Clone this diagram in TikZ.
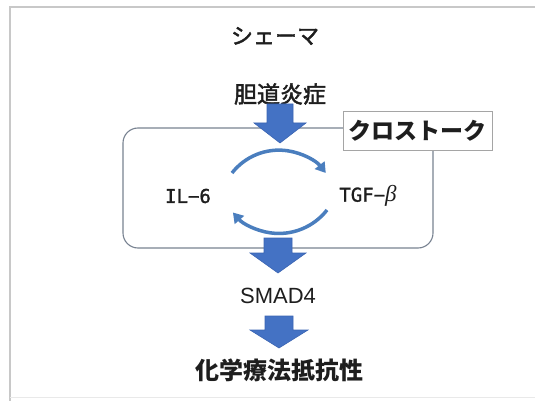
\documentclass[tikz,border=0pt]{standalone}
\usepackage{fontspec}
\setmainfont{Noto Sans CJK JP}
\newfontfamily\jpm[FakeBold=2]{Noto Sans CJK JP}
\newfontfamily\arialf{Liberation Sans}
\newfontfamily\monof[FakeBold=1.5]{DejaVu Sans Mono}
\newfontfamily\betaf{Liberation Serif}
\usetikzlibrary{arrows.meta}
\definecolor{blk}{RGB}{68,114,196}
\definecolor{blkedge}{RGB}{58,100,178}
\definecolor{arcblue}{RGB}{74,126,190}
\definecolor{boxgray}{RGB}{120,130,145}
\definecolor{framegray}{RGB}{200,200,200}
\definecolor{labelgray}{RGB}{165,165,165}
\definecolor{txt}{RGB}{30,30,30}
\newcommand\blkarrow[6]{% x, ytop, ybase, ytip, shaft half, head half
  \filldraw[fill=blk,draw=blkedge,line width=0.6pt]
    (#1-#5,#2) -- (#1+#5,#2) -- (#1+#5,#3) -- (#1+#6,#3) -- (#1,#4)
    -- (#1-#6,#3) -- (#1-#5,#3) -- cycle;}
\tikzset{
  jtext/.style={text=txt, inner sep=0pt},
  labelbox/.style={draw=labelgray, line width=1pt, fill=white, minimum width=149pt, minimum height=38pt, inner sep=0pt, text=txt},
  cycarrow/.style={draw=arcblue, line width=3.5pt, -{Triangle[length=10pt,width=12pt]}},
}
\begin{document}
\begin{tikzpicture}[x=1pt,y=-1pt]
\useasboundingbox (0,0) rectangle (535,401);
% frame
\draw[framegray, line width=1.5pt] (10,401) -- (10,7) -- (535,7);
\draw[framegray!40, line width=1pt] (10,397) -- (535,397);
% rounded crosstalk box
\draw[boxgray, line width=1.1pt, rounded corners=15pt] (123,128) rectangle (433,248);
% texts
\node[jtext, font=\jpm\fontsize{22}{26}\selectfont] (title) at (275,36) {シェーマ};
\node[jtext, font=\jpm\fontsize{23}{26}\selectfont] (cause) at (280,94) {胆道炎症};
\node[jtext, font=\monof\fontsize{19}{24}\selectfont] (il6) at (188,196) {IL−6};
\node[jtext, font=\monof\fontsize{19}{24}\selectfont] (tgf) at (368,196) {TGF−{\betaf\itshape\fontsize{23}{24}\selectfont β}};
\node[jtext, font=\arialf\fontsize{22}{26}\selectfont] (smad) at (278,296) {SMAD4};
\node[jtext, font=\bfseries\fontsize{24}{28}\selectfont] (res) at (279,370) {化学療法抵抗性};
\node[labelbox, font=\bfseries\fontsize{23}{26}\selectfont] (xtalk) at (417.5,131) {クロストーク};
% block arrows
\blkarrow{280}{104}{123}{143}{13}{26}
\blkarrow{278}{238}{253}{273}{14}{28}
\blkarrow{279}{316}{330}{348}{14}{29}
% cycle arrows between IL-6 and TGF-beta
\coordinate (topL) at (232,173);
\coordinate (botR) at (327,210);
\draw[cycarrow] (topL) arc[start angle=218, end angle=322, radius=59.5];
\draw[cycarrow] (botR) arc[start angle=38, end angle=139, radius=61];
\end{tikzpicture}
\end{document}
